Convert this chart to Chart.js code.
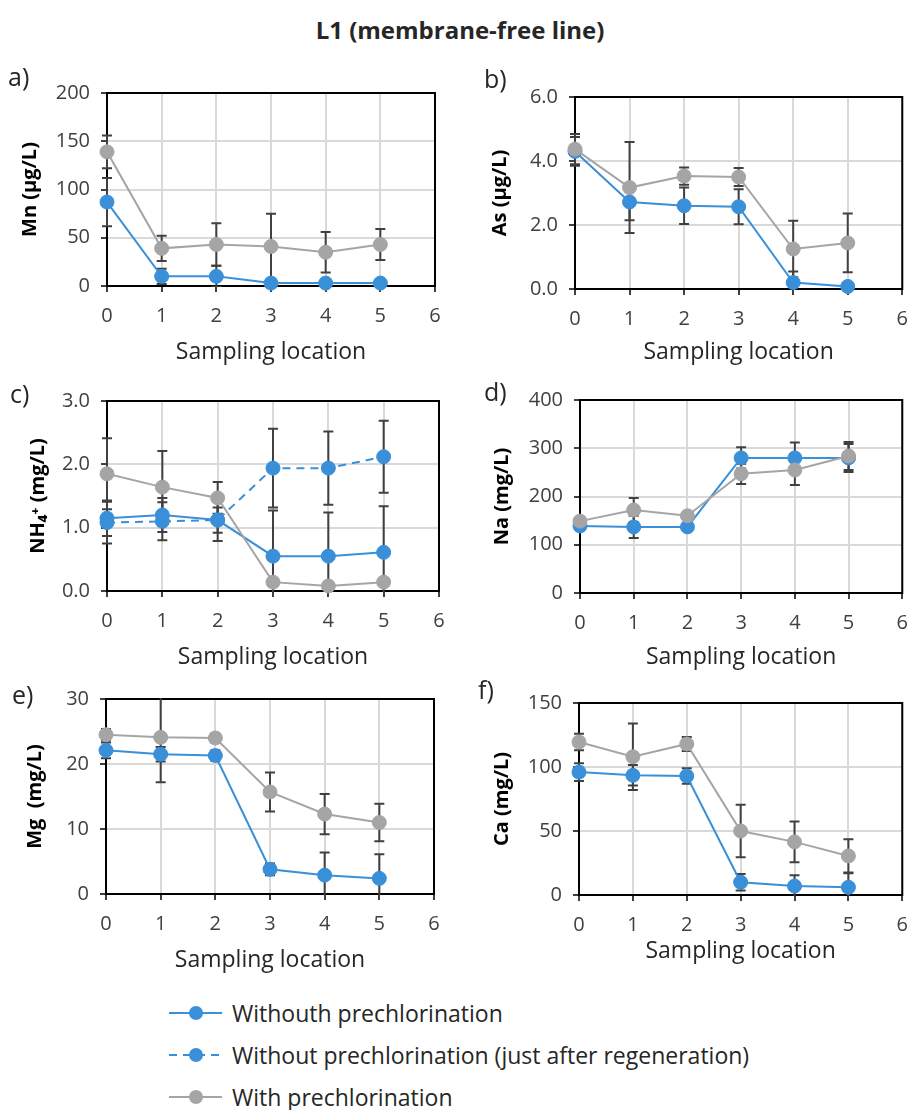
<!DOCTYPE html>
<html>
<head>
<meta charset="utf-8">
<script src="https://cdn.jsdelivr.net/npm/chart.js@4.4.1/dist/chart.umd.min.js"></script>
<style>
  body { margin: 0; background: #fff; font-family: 'Open Sans', 'DejaVu Sans', sans-serif; }
  #wrap { position: relative; width: 920px; height: 1110px; overflow: hidden; }
  canvas { position: absolute; }
  .tag { position: absolute; font-size: 25px; line-height: 25px; color: #262626; }
  #title { position: absolute; left: 0; width: 920px; top: 15px; text-align: center;
           font-weight: bold; font-size: 24px; line-height: 30px; color: #262626; }
  .leg { position: absolute; left: 166px; height: 30px; font-size: 23px; line-height: 30px; color: #262626; }
  .leg svg { position: absolute; left: 0; top: 0; }
  .leg span { position: absolute; left: 66px; white-space: nowrap; }
</style>
</head>
<body>
<div id="wrap">
  <div id="title">L1 (membrane-free line)</div>
  <canvas id="pa" width="460" height="310" style="left:0;top:60px"></canvas>
  <canvas id="pb" width="460" height="310" style="left:460px;top:60px"></canvas>
  <canvas id="pc" width="460" height="305" style="left:0;top:370px"></canvas>
  <canvas id="pd" width="460" height="305" style="left:460px;top:370px"></canvas>
  <canvas id="pe" width="460" height="300" style="left:0;top:675px"></canvas>
  <canvas id="pf" width="460" height="300" style="left:460px;top:675px"></canvas>
  <div class="tag" style="left:8px;top:64px">a)</div>
  <div class="tag" style="left:484px;top:66px">b)</div>
  <div class="tag" style="left:10px;top:381px">c)</div>
  <div class="tag" style="left:484px;top:379px">d)</div>
  <div class="tag" style="left:12px;top:682px">e)</div>
  <div class="tag" style="left:478px;top:677px">f)</div>
  <div class="leg" style="top:998px">
    <svg width="60" height="30"><line x1="3" y1="15" x2="56" y2="15" stroke="#3a8fd9" stroke-width="2"/><circle cx="30" cy="15" r="7" fill="#3a8fd9"/></svg>
    <span>Withouth prechlorination</span>
  </div>
  <div class="leg" style="top:1040px">
    <svg width="60" height="30"><line x1="3" y1="15" x2="56" y2="15" stroke="#3a8fd9" stroke-width="2" stroke-dasharray="8,6"/><circle cx="30" cy="15" r="7" fill="#3a8fd9"/></svg>
    <span>Without prechlorination (just after regeneration)</span>
  </div>
  <div class="leg" style="top:1082px">
    <svg width="60" height="30"><line x1="3" y1="15" x2="56" y2="15" stroke="#a5a5a5" stroke-width="2"/><circle cx="30" cy="15" r="7" fill="#a5a5a5"/></svg>
    <span>With prechlorination</span>
  </div>
</div>
<script>
// sampling locations (x values)
const locations = [0, 1, 2, 3, 4, 5];

// a) Mn (ug/L)
const mnWithout = [87, 10, 10, 3, 3, 3];
const mnWithoutErr = [25, 8, 11, 2, 2, 2];
const mnWith = [139, 39, 43, 41, 35, 43];
const mnWithErr = [17, 13, 22, 34, 21, 16];

// b) As (ug/L)
const asWithout = [4.3, 2.72, 2.6, 2.57, 0.2, 0.08];
const asWithoutErr = [0.45, 0.57, 0.57, 0.55, 0.35, 0.1];
const asWith = [4.37, 3.17, 3.53, 3.5, 1.25, 1.44];
const asWithErr = [0.47, 1.42, 0.27, 0.28, 0.88, 0.92];

// c) NH4+ (mg/L)
const nhWithout = [1.15, 1.2, 1.12, 0.55, 0.55, 0.61];
const nhWithoutErr = [0.28, 0.27, 0.2, 0.72, 0.69, 0.73];
const nhRegen = [1.08, 1.1, 1.12, 1.94, 1.94, 2.12];
const nhRegenErr = [0.33, 0.3, 0.33, 0.62, 0.58, 0.57];
const nhWith = [1.85, 1.64, 1.47, 0.14, 0.08, 0.14];
const nhWithErr = [0.56, 0.57, 0.25, 0.04, 0.04, 0.04];

// d) Na (mg/L)
const naWithout = [139, 137, 137, 280, 280, 280];
const naWithoutErr = [5, 23, 5, 22, 32, 29];
const naWith = [149, 172, 160, 247, 255, 284];
const naWithErr = [5, 25, 5, 21, 31, 29];

// e) Mg (mg/L)
const mgWithout = [22.1, 21.5, 21.3, 3.8, 2.9, 2.4];
const mgWithoutErr = [1.2, 1.1, 0.8, 0.9, 3.5, 3.7];
const mgWith = [24.5, 24.1, 24.0, 15.7, 12.3, 11.0];
const mgWithErr = [0.9, 6.9, 0.7, 3.0, 3.1, 2.9];

// f) Ca (mg/L)
const caWithout = [96, 93.5, 93, 10, 7, 6];
const caWithoutErr = [7, 8, 6, 6.5, 8.5, 11];
const caWith = [119.5, 108, 118, 50, 41.5, 30.5];
const caWithErr = [6.5, 26, 5.5, 20.5, 16, 13];

const BLUE = '#3a8fd9';
const GRAY = '#a5a5a5';

Chart.defaults.font.family = "'Open Sans', 'DejaVu Sans', sans-serif";

// frame round the plot area (Excel style box)
const frame = {
  id: 'frame',
  beforeDatasetsDraw(chart) {
    const { ctx, chartArea: a } = chart;
    ctx.save();
    ctx.strokeStyle = '#000';
    ctx.lineWidth = 2;
    ctx.strokeRect(a.left, a.top, a.right - a.left, a.bottom - a.top);
    ctx.restore();
  }
};

// +/- error bars, values kept in dataset.errors
const errorBars = {
  id: 'errorBars',
  beforeDatasetsDraw(chart) {
    const { ctx, chartArea: a, scales: { x, y } } = chart;
    ctx.save();
    ctx.beginPath();
    ctx.rect(a.left - 10, a.top - 1, a.right - a.left + 20, a.bottom - a.top + 2);
    ctx.clip();
    ctx.strokeStyle = '#404040';
    ctx.lineWidth = 2;
    chart.data.datasets.forEach(ds => {
      ds.data.forEach((p, i) => {
        const e = ds.errors[i];
        const px = x.getPixelForValue(p.x);
        const top = y.getPixelForValue(p.y + e);
        const bot = y.getPixelForValue(p.y - e);
        ctx.beginPath();
        ctx.moveTo(px, top); ctx.lineTo(px, bot);
        ctx.moveTo(px - 5, top); ctx.lineTo(px + 5, top);
        ctx.moveTo(px - 5, bot); ctx.lineTo(px + 5, bot);
        ctx.stroke();
      });
    });
    ctx.restore();
  }
};

function series(vals, errs, color, dashed, order) {
  return {
    data: locations.map((x, i) => ({ x: x, y: vals[i] })),
    errors: errs,
    borderColor: color,
    backgroundColor: color,
    borderWidth: 2,
    borderDash: dashed ? [8, 6] : [],
    pointRadius: 7,
    pointBorderWidth: 1,
    pointBackgroundColor: color,
    pointBorderColor: color,
    tension: 0,
    clip: false,
    order: order
  };
}

// box: canvas w/h, plot area left/right/top/bottom, y title centre x, x title centre y
function makePanel(id, box, yTitle, yMax, yStep, decimals, datasets) {
  const yTitleSize = 20, xTitleSize = 23;
  new Chart(document.getElementById(id), {
    type: 'line',
    data: { datasets: datasets },
    options: {
      responsive: false,
      animation: false,
      events: [],
      layout: { padding: { left: 0, top: box.t, right: box.w - box.r, bottom: 0 } },
      plugins: { legend: { display: false }, tooltip: { enabled: false } },
      scales: {
        x: {
          type: 'linear', min: 0, max: 6,
          ticks: { stepSize: 1, padding: 12, color: '#404040', font: { size: 20 }, maxRotation: 0 },
          grid: { color: '#d9d9d9', lineWidth: 2, tickColor: '#000', tickLength: 6, tickWidth: 1.5 },
          border: { color: '#000', width: 2 },
          title: { display: true, text: 'Sampling location', color: '#262626',
                   font: { size: xTitleSize },
                   padding: { top: 0, bottom: box.h - box.xt - xTitleSize * 0.6 } },
          afterFit(s) { s.height = box.h - box.b; }
        },
        y: {
          min: 0, max: yMax,
          ticks: { stepSize: yStep, padding: 11, color: '#404040', font: { size: 20 },
                   callback: v => v.toFixed(decimals) },
          grid: { color: '#d9d9d9', lineWidth: 2, tickColor: '#000', tickLength: 6, tickWidth: 1.5 },
          border: { color: '#000', width: 2 },
          title: { display: true, text: yTitle, color: '#000',
                   font: { size: yTitleSize, weight: 'bold' },
                   padding: { top: box.yt - yTitleSize * 0.6, bottom: 0 } },
          afterFit(s) { s.width = box.l; }
        }
      }
    },
    plugins: [frame, errorBars]
  });
}

makePanel('pa', { w: 460, h: 310, l: 107, r: 435, t: 33, b: 226, yt: 30, xt: 292 },
  'Mn (µg/L)', 200, 50, 0, [
    series(mnWith, mnWithErr, GRAY, false, 0),
    series(mnWithout, mnWithoutErr, BLUE, false, 1)
  ]);

makePanel('pb', { w: 460, h: 310, l: 115, r: 443, t: 37, b: 229, yt: 40, xt: 292 },
  'As (µg/L)', 6, 2, 1, [
    series(asWith, asWithErr, GRAY, false, 0),
    series(asWithout, asWithoutErr, BLUE, false, 1)
  ]);

makePanel('pc', { w: 460, h: 305, l: 107, r: 439, t: 31, b: 221, yt: 38, xt: 287 },
  'NH₄⁺ (mg/L)', 3, 1, 1, [
    series(nhWith, nhWithErr, GRAY, false, 0),
    series(nhWithout, nhWithoutErr, BLUE, false, 1),
    series(nhRegen, nhRegenErr, BLUE, true, 2)
  ]);

makePanel('pd', { w: 460, h: 305, l: 120, r: 453, t: 30, b: 223, yt: 42, xt: 287 },
  'Na (mg/L)', 400, 100, 0, [
    series(naWith, naWithErr, GRAY, false, 0),
    series(naWithout, naWithoutErr, BLUE, false, 1)
  ]);

makePanel('pe', { w: 460, h: 300, l: 106, r: 434, t: 24, b: 219, yt: 35, xt: 285 },
  'Mg  (mg/L)', 30, 10, 0, [
    series(mgWith, mgWithErr, GRAY, false, 0),
    series(mgWithout, mgWithoutErr, BLUE, false, 1)
  ]);

makePanel('pf', { w: 460, h: 300, l: 119, r: 447, t: 28, b: 220, yt: 42, xt: 276 },
  'Ca (mg/L)', 150, 50, 0, [
    series(caWith, caWithErr, GRAY, false, 0),
    series(caWithout, caWithoutErr, BLUE, false, 1)
  ]);
</script>
</body>
</html>
